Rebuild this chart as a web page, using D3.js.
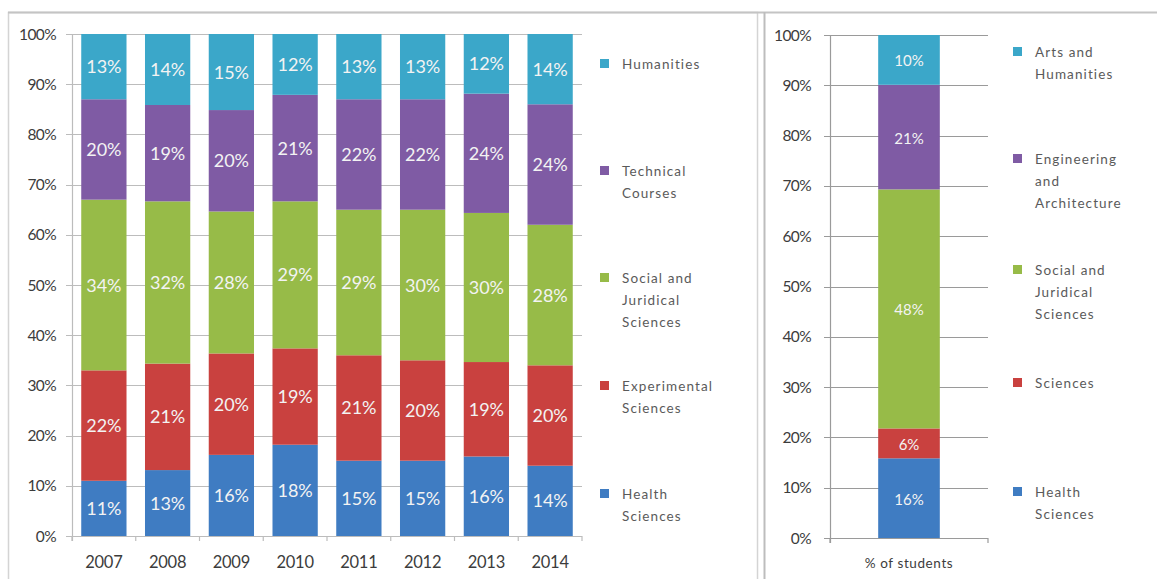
<!DOCTYPE html>
<html>
<head>
<meta charset="utf-8">
<script src="https://cdn.jsdelivr.net/npm/d3@7"></script>
<style>
  html, body { margin: 0; padding: 0; background: #fff; }
  svg { display: block; font-family: Lato, "Open Sans", sans-serif; }
</style>
</head>
<body>
<svg id="chart" width="1157" height="579"></svg>
<script>
// ---- Left panel: distribution by branch, per year ----
const years = ["2007", "2008", "2009", "2010", "2011", "2012", "2013", "2014"];
const branchKeys = ["health", "experimental", "social", "technical", "humanities"];
const health       = [11, 13, 16, 18, 15, 15, 16, 14];
const experimental = [22, 21, 20, 19, 21, 20, 19, 20];
const social       = [34, 32, 28, 29, 29, 30, 30, 28];
const technical    = [20, 19, 20, 21, 22, 22, 24, 24];
const humanities   = [13, 14, 15, 12, 13, 13, 12, 14];
const branchLegend = [
  ["Humanities"],
  ["Technical", "Courses"],
  ["Social and", "Juridical", "Sciences"],
  ["Experimental", "Sciences"],
  ["Health", "Sciences"]
];

// ---- Right panel: share of students ----
const studentCategory = ["% of students"];
const studentKeys = ["health", "sciences", "social", "engineering", "arts"];
const studentShares = [16, 6, 48, 21, 10];
const studentLegend = [
  ["Arts and", "Humanities"],
  ["Engineering", "and", "Architecture"],
  ["Social and", "Juridical", "Sciences"],
  ["Sciences"],
  ["Health", "Sciences"]
];

const percentTicks = [0, 0.1, 0.2, 0.3, 0.4, 0.5, 0.6, 0.7, 0.8, 0.9, 1];

const colors = {
  health: "#3f7cc2", experimental: "#c9413f", sciences: "#c9413f",
  social: "#97bb48", technical: "#7f5ba4", engineering: "#7f5ba4",
  humanities: "#3ba7c9", arts: "#3ba7c9"
};

const svg = d3.select("#chart");

// panel frames
svg.append("rect").attr("x", 8.5).attr("y", 12.5).attr("width", 749).attr("height", 580)
  .attr("fill", "none").attr("stroke", "#d4d4d4").attr("stroke-width", 1.5);
svg.append("line").attr("x1", 8).attr("x2", 1157).attr("y1", 12.5).attr("y2", 12.5)
  .attr("stroke", "#c4c4c4").attr("stroke-width", 2);
svg.append("line").attr("x1", 764.5).attr("x2", 764.5).attr("y1", 12).attr("y2", 579)
  .attr("stroke", "#bdbdbd").attr("stroke-width", 2);

function drawPanel(opt) {
  const g = svg.append("g");
  const x = d3.scaleBand().domain(opt.categories).range(opt.xRange).paddingInner(opt.pad).paddingOuter(opt.pad / 2);
  const y = d3.scaleLinear().domain([0, 1]).range(opt.yRange);

  // horizontal gridlines with tick marks on the left
  g.append("g").selectAll("line").data(percentTicks).join("line")
    .attr("x1", opt.xRange[0] - 6).attr("x2", opt.xRange[1])
    .attr("y1", d => Math.round(y(d)) + 0.5).attr("y2", d => Math.round(y(d)) + 0.5)
    .attr("stroke", opt.gridColor).attr("stroke-width", 1.2);

  // y axis labels
  g.append("g").selectAll("text").data(percentTicks).join("text")
    .attr("x", opt.labelX).attr("y", d => y(d) + 5.5)
    .attr("text-anchor", "end").attr("font-size", 15.5).attr("fill", "#3c3c3c")
    .attr("letter-spacing", -0.6)
    .text(d3.format(".0%"));

  // y axis line
  g.append("line").attr("x1", opt.xRange[0] + 0.5).attr("x2", opt.xRange[0] + 0.5)
    .attr("y1", opt.yRange[1]).attr("y2", opt.yRange[0] + 5)
    .attr("stroke", opt.gridColor).attr("stroke-width", 1.2);

  // category boundary ticks under the base line
  const bounds = opt.categories.map(c => x(c) - x.step() * x.paddingInner() / 2)
    .concat([opt.xRange[1]]);
  g.append("g").selectAll("line").data(bounds).join("line")
    .attr("x1", d => d).attr("x2", d => d)
    .attr("y1", opt.yRange[0]).attr("y2", opt.yRange[0] + 5)
    .attr("stroke", opt.gridColor).attr("stroke-width", 1.2);

  // stacked bars (100% stacked)
  const stack = d3.stack().keys(opt.keys).offset(d3.stackOffsetExpand);
  const series = stack(opt.rows);
  const layer = g.append("g").selectAll("g").data(series).join("g")
    .attr("fill", s => colors[s.key]);
  layer.selectAll("rect").data(s => s.map(d => ({ d, key: s.key }))).join("rect")
    .attr("x", p => x(p.d.data.cat))
    .attr("width", x.bandwidth())
    .attr("y", p => y(p.d[1]))
    .attr("height", p => y(p.d[0]) - y(p.d[1]));

  // value labels
  layer.selectAll("text").data(s => s.map(d => ({ d, key: s.key }))).join("text")
    .attr("x", p => x(p.d.data.cat) + x.bandwidth() / 2)
    .attr("y", p => (y(p.d[0]) + y(p.d[1])) / 2 + 6.5)
    .attr("text-anchor", "middle").attr("font-size", opt.valueSize).attr("fill", "#f3f3f3")
    .text(p => p.d.data[p.key] + "%");

  // category labels
  g.append("g").selectAll("text").data(opt.categories).join("text")
    .attr("x", c => x(c) + x.bandwidth() / 2).attr("y", opt.catY)
    .attr("text-anchor", "middle").attr("font-size", opt.catSize).attr("fill", "#3c3c3c")
    .attr("letter-spacing", opt.catSpacing)
    .text(c => c);

  // legend (top entry first)
  const legendKeys = opt.keys.slice().reverse();
  const lg = g.append("g");
  opt.legend.forEach((lines, i) => {
    const top = opt.legendY[i];
    lg.append("rect").attr("x", opt.legendX).attr("y", top - 5).attr("width", 9).attr("height", 9)
      .attr("fill", colors[legendKeys[i]]);
    lines.forEach((t, j) => {
      lg.append("text").attr("x", opt.legendX + 22).attr("y", top + 5 + j * opt.legendLine)
        .attr("font-size", 13.5).attr("fill", "#5a5a5a").attr("letter-spacing", 1.1)
        .text(t);
    });
  });
}

const branchRows = years.map((yr, i) => ({
  cat: yr, health: health[i], experimental: experimental[i], social: social[i],
  technical: technical[i], humanities: humanities[i]
}));

drawPanel({
  categories: years, keys: branchKeys, rows: branchRows,
  xRange: [72, 582], yRange: [536, 34], pad: 0.29,
  gridColor: "#bcbcbc", labelX: 56,
  valueSize: 18, catY: 568, catSize: 16.5, catSpacing: -0.3,
  legend: branchLegend, legendX: 600, legendY: [64, 171, 278, 386, 494], legendLine: 22
});

const studentRow = { cat: studentCategory[0] };
studentKeys.forEach((k, i) => { studentRow[k] = studentShares[i]; });

drawPanel({
  categories: studentCategory, keys: studentKeys, rows: [studentRow],
  xRange: [830, 988], yRange: [538, 35], pad: 0.61,
  gridColor: "#9a9a9a", labelX: 811,
  valueSize: 15, catY: 568, catSize: 13.5, catSpacing: 0.6,
  legend: studentLegend, legendX: 1013, legendY: [52, 159, 270, 383, 492], legendLine: 22
});
</script>
</body>
</html>
